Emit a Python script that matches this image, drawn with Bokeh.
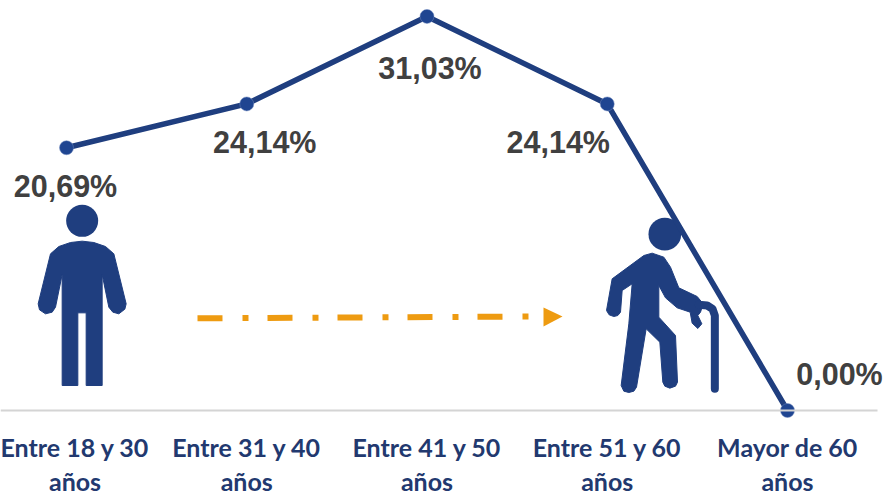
from bokeh.plotting import figure
from bokeh.models import Range1d, ColumnDataSource, FixedTicker
from bokeh.core.properties import value
from bokeh.embed import file_html
from bokeh.resources import INLINE

categories = ["Entre 18 y 30\naños", "Entre 31 y 40\naños", "Entre 41 y 50\naños", "Entre 51 y 60\naños", "Mayor de 60\naños"]
percent = [20.69, 24.14, 31.03, 24.14, 0.00]
label_dx = [-1, 18, 3, -49, 52]
label_dy = [38, 38, 52, 38, -37]

NAVY = "#1F3E7F"
W, H = 884, 491
X0, DX = 66.0, 180.25
Y0, SY = 410.0, 12.7

p = figure(width=W, height=H, frame_width=W, frame_height=H, min_border=0, toolbar_location=None,
           output_backend="svg", outline_line_color=None, background_fill_color="white",
           x_range=Range1d(-X0 / DX, (W - X0) / DX), y_range=Range1d((Y0 - H) / SY, Y0 / SY))
p.extra_x_ranges = {"px": Range1d(0, W)}
p.extra_y_ranges = {"px": Range1d(H, 0)}
p.grid.visible = False
p.yaxis.visible = False

ax = p.xaxis[0]
ax.fixed_location = 0
ax.bounds = (-X0 / DX, (877 - X0) / DX)
ax.ticker = FixedTicker(ticks=list(range(5)))
ax.major_label_overrides = {i: c for i, c in enumerate(categories)}
ax.axis_line_color = "#D4D4D4"
ax.axis_line_width = 2
ax.major_tick_line_color = None
ax.minor_tick_line_color = None
ax.major_label_standoff = 15
ax.major_label_text_font = "Lato"
ax.major_label_text_font_style = "bold"
ax.major_label_text_font_size = "25px"
ax.major_label_text_color = "#22396F"
ax.major_label_text_line_height = 1.14


def shape(points, ox, oy):
    return [ox + a / 3 for a, b in points], [oy + b / 3 for a, b in points]


def draw_patch(points, ox, oy):
    xs, ys = shape(points, ox, oy)
    p.patch(xs, ys, fill_color=NAVY, line_color=NAVY, line_width=1, line_join="round",
            x_range_name="px", y_range_name="px")


def head(zx, zy, zr, ox, oy):
    p.circle([ox + zx / 3], [oy + zy / 3], radius=zr / 3, fill_color=NAVY, line_color=None,
             x_range_name="px", y_range_name="px")


# young figure
head(245, 271, 48, 0, 130)
draw_patch([(245, 332), (280, 336), (315, 348), (340, 370), (377, 520), (373, 536), (355, 550), (337, 545),
            (325, 530), (305, 432), (305, 765), (257, 765), (257, 547), (232, 547), (232, 765), (185, 765),
            (185, 432), (165, 530), (155, 545), (135, 550), (117, 538), (113, 520), (150, 370), (175, 348),
            (210, 336)], 0, 130)

# old figure
head(253, 101, 49, 580, 200)
draw_patch([(215, 158), (250, 170), (270, 200), (295, 262), (350, 288), (368, 310), (360, 335), (352, 345),
            (364, 370), (352, 384), (335, 368), (329, 335), (290, 322), (255, 292), (235, 255), (235, 350),
            (285, 405), (291, 545), (285, 557), (268, 563), (253, 557), (247, 545), (238, 425), (197, 385),
            (168, 560), (160, 572), (145, 576), (130, 572), (122, 555), (145, 370), (155, 250), (125, 270),
            (120, 335), (112, 345), (100, 348), (86, 343), (78, 330), (95, 235), (190, 165)], 580, 200)
cx, cy = shape([(403, 565), (403, 345), (396, 325), (380, 315), (355, 313)], 580, 200)
p.line(cx, cy, line_color=NAVY, line_width=8, line_cap="round", line_join="round",
       x_range_name="px", y_range_name="px")

# arrow
p.line([197, 531], [317.8, 316], line_color="#EE9B11", line_width=6, line_dash="25 20 6 19",
       x_range_name="px", y_range_name="px")
p.patch([543, 562, 543], [307, 316, 326], fill_color="#EE9B11", line_color=None,
        x_range_name="px", y_range_name="px")

src = ColumnDataSource(dict(x=list(range(5)), y=percent,
                            t=[f"{v:.2f}%".replace(".", ",") for v in percent],
                            dx=label_dx, dy=label_dy))
p.line("x", "y", source=src, line_color=NAVY, line_width=5.5, line_join="round")
p.scatter("x", "y", source=src, size=14, fill_color="#1F4591", line_color="#6F8AC0", line_alpha=0.5, line_width=1)
p.text("x", "y", text="t", source=src, x_offset="dx", y_offset="dy", text_align="center", text_baseline="middle",
       text_font=value("Liberation Sans"), text_font_style="bold", text_font_size="30.5px", text_color="#404040")

open("out.html", "w").write(file_html(p, INLINE))
